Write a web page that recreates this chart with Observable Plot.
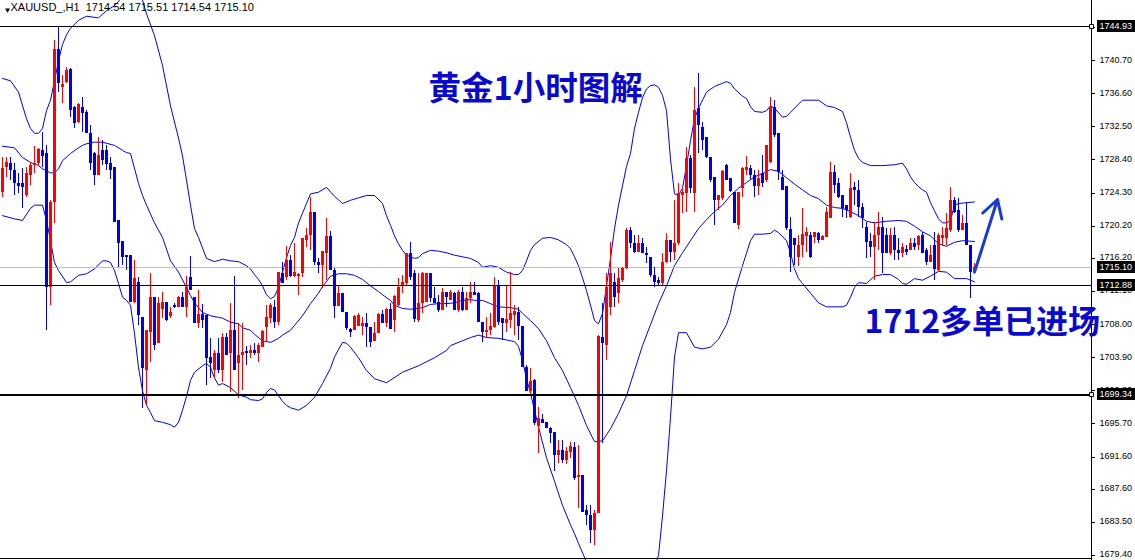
<!DOCTYPE html>
<html>
<head>
<meta charset="utf-8">
<script src="https://cdn.jsdelivr.net/npm/d3@7"></script>
<script src="https://cdn.jsdelivr.net/npm/@observablehq/plot@0.6"></script>
<style>
  html, body { margin: 0; padding: 0; background: #fff; }
  #chart { width: 1135px; height: 560px; overflow: hidden; }
  #chart svg { display: block; }
</style>
</head>
<body>
<div id="chart"></div>
<script>
// XAUUSD hourly bars, oldest first
const symbol = "XAUUSD_";
const period = "H1";
const opens = [
1724.4,1727.5,1728.0,1727.1,1725.5,1725.5,1724.0,1726.5,1727.7,1728.0,
1729.6,1729.2,1712.6,1723.1,1742.1,1737.4,1738.0,1739.6,1734.9,1733.0,
1734.9,1734.3,1731.7,1729.2,1726.5,1729.6,1729.6,1728.0,1727.5,1720.9,
1718.3,1716.6,1716.6,1710.7,1713.2,1708.9,1702.3,1707.0,1711.4,1705.7,
1709.9,1710.7,1709.0,1710.4,1710.1,1711.4,1710.1,1713.8,1711.4,1708.1,
1709.2,1709.1,1703.9,1702.3,1704.4,1702.3,1706.4,1704.4,1707.3,1703.2,
1704.2,1704.7,1704.4,1704.8,1704.4,1705.2,1707.6,1708.7,1710.1,1708.3,
1714.3,1713.8,1715.9,1714.0,1714.0,1714.3,1718.4,1719.0,1721.9,1715.7,
1715.3,1716.8,1718.9,1714.7,1710.2,1711.9,1709.5,1707.4,1707.3,1707.8,
1707.8,1708.1,1707.6,1705.9,1706.9,1709.2,1708.1,1709.9,1708.5,1710.4,
1712.8,1713.1,1716.8,1714.3,1708.5,1710.6,1710.7,1714.3,1711.2,1710.7,
1709.7,1712.0,1711.0,1711.9,1709.7,1712.0,1709.7,1711.2,1712.0,1711.9,
1708.3,1707.0,1707.3,1707.6,1712.8,1708.7,1708.1,1708.5,1709.1,1709.5,
1707.8,1702.7,1699.7,1701.1,1695.4,1696.2,1695.9,1695.1,1694.6,1691.8,
1692.4,1691.2,1692.2,1692.8,1689.1,1689.3,1685.0,1684.3,1682.5,1684.6,
1706.4,1705.4,1710.1,1713.2,1711.9,1713.5,1714.9,1719.7,1718.0,1716.9,
1718.0,1716.8,1716.3,1714.1,1713.5,1713.1,1715.7,1718.4,1716.9,1718.0,
1724.0,1724.2,1728.6,1724.2,1734.8,1732.4,1731.2,1728.7,1726.2,1723.4,
1723.6,1727.7,1726.1,1724.4,1720.3,1724.9,1727.1,1727.3,1726.5,1725.1,
1726.7,1725.9,1728.1,1734.9,1731.7,1726.2,1725.1,1719.8,1718.7,1716.3,
1717.8,1718.9,1719.0,1718.8,1719.3,1718.4,1718.8,1721.1,1726.8,1725.5,
1724.0,1722.8,1721.3,1725.0,1724.6,1722.5,1720.0,1718.3,1717.6,1719.0,
1720.0,1719.0,1716.8,1719.0,1717.2,1716.8,1717.3,1717.2,1718.0,1717.8,
1719.0,1717.2,1715.7,1717.8,1714.7,1718.7,1718.7,1719.7,1723.4,1722.1,
1719.7,1720.5,1717.8,1714.54
];
const highs = [
1728.7,1728.7,1728.7,1728.0,1726.7,1727.3,1727.5,1728.1,1730.1,1729.8,
1731.8,1730.2,1723.4,1743.2,1744.93,1738.9,1739.9,1739.7,1735.0,1735.4,
1736.1,1734.5,1732.7,1729.3,1731.2,1730.8,1730.2,1728.7,1727.5,1720.9,
1718.3,1716.6,1716.6,1715.9,1713.8,1708.9,1707.3,1714.3,1711.4,1711.4,
1712.0,1710.7,1710.1,1710.6,1711.5,1712.0,1714.0,1716.4,1711.4,1712.2,
1710.5,1709.1,1706.3,1704.8,1706.3,1706.9,1706.9,1710.6,1714.0,1708.1,
1708.1,1705.3,1705.4,1705.7,1705.7,1707.3,1710.4,1710.6,1711.0,1714.5,
1715.7,1717.7,1716.6,1718.0,1714.3,1718.7,1719.9,1723.7,1721.9,1716.2,
1717.1,1721.1,1719.5,1714.9,1712.8,1711.9,1709.5,1707.5,1709.1,1709.4,
1708.9,1709.4,1707.6,1708.3,1709.4,1709.7,1710.0,1710.6,1711.6,1713.7,
1714.1,1716.8,1718.2,1714.7,1714.3,1714.5,1714.3,1714.3,1712.6,1711.6,
1712.5,1712.0,1712.2,1712.0,1712.2,1712.6,1712.0,1713.2,1713.2,1712.0,
1708.3,1708.9,1709.4,1713.8,1713.5,1708.7,1712.8,1714.5,1710.4,1710.1,
1707.8,1702.9,1702.6,1701.2,1697.7,1696.9,1695.9,1695.2,1694.6,1693.6,
1693.6,1692.8,1693.4,1693.4,1693.0,1689.3,1685.6,1685.6,1685.0,1706.6,
1710.6,1714.3,1718.2,1714.3,1714.9,1715.1,1719.9,1720.0,1719.0,1719.0,
1718.7,1717.6,1716.3,1715.1,1713.8,1716.8,1719.3,1718.4,1723.4,1725.5,
1725.0,1729.9,1728.9,1737.4,1739.1,1733.0,1731.2,1728.7,1726.2,1724.0,
1727.1,1727.8,1726.1,1724.4,1724.4,1727.5,1728.8,1727.7,1727.1,1727.1,
1728.9,1730.2,1736.1,1735.8,1731.7,1727.1,1725.1,1721.3,1718.7,1719.0,
1722.4,1720.0,1719.4,1719.4,1719.4,1719.0,1722.5,1728.1,1727.7,1726.1,
1724.0,1722.8,1726.7,1725.6,1725.9,1723.0,1720.6,1719.3,1720.6,1721.9,
1721.3,1719.9,1719.9,1720.0,1718.7,1718.0,1717.8,1718.7,1718.7,1719.0,
1719.4,1717.4,1717.8,1719.4,1719.3,1720.0,1721.8,1725.0,1723.7,1723.6,
1721.5,1723.1,1717.8,1715.51
];
const lows = [
1723.7,1726.2,1725.9,1724.0,1724.2,1722.4,1723.7,1725.2,1726.7,1727.7,
1727.5,1707.3,1710.4,1720.5,1736.8,1735.4,1737.9,1733.7,1732.3,1732.9,
1731.8,1731.7,1727.1,1725.2,1726.5,1727.7,1727.1,1726.0,1720.6,1715.1,
1715.3,1714.7,1710.7,1710.6,1707.9,1697.6,1697.9,1703.3,1704.8,1705.7,
1708.7,1708.4,1708.7,1710.0,1710.1,1710.1,1708.9,1712.2,1708.1,1707.5,
1707.5,1700.5,1701.3,1701.3,1701.9,1700.8,1704.2,1699.6,1702.3,1698.8,
1699.8,1702.9,1703.8,1704.2,1703.3,1705.2,1705.8,1708.1,1707.5,1707.9,
1713.1,1713.5,1713.8,1713.8,1711.6,1713.8,1717.6,1717.2,1715.3,1714.3,
1712.5,1713.5,1714.7,1708.7,1710.2,1709.5,1707.3,1706.4,1707.3,1707.8,
1706.6,1705.2,1705.2,1705.9,1706.9,1708.1,1707.6,1707.4,1707.0,1710.2,
1711.9,1712.8,1713.5,1708.3,1708.3,1709.4,1710.7,1710.7,1710.6,1709.5,
1709.7,1710.1,1711.0,1709.7,1709.5,1709.6,1709.7,1710.6,1711.6,1708.3,
1705.8,1706.4,1706.6,1707.5,1707.9,1706.0,1707.0,1707.5,1706.6,1706.0,
1702.7,1699.7,1699.5,1695.5,1692.0,1695.7,1695.1,1693.3,1689.8,1690.8,
1690.8,1690.7,1691.4,1688.7,1685.2,1684.7,1683.1,1680.9,1680.6,1684.6,
1693.3,1703.6,1709.1,1710.1,1710.6,1713.2,1714.8,1717.4,1716.8,1716.9,
1716.8,1715.6,1713.8,1712.6,1712.8,1712.8,1715.6,1715.7,1715.9,1717.8,
1721.8,1721.9,1724.2,1721.9,1729.2,1729.6,1728.6,1725.6,1720.3,1722.1,
1723.4,1725.9,1724.4,1720.5,1719.8,1723.7,1726.5,1726.0,1723.7,1724.0,
1725.0,1725.6,1728.0,1731.2,1725.9,1724.6,1719.7,1714.5,1715.3,1715.2,
1716.3,1716.9,1716.2,1718.0,1718.0,1718.4,1718.8,1721.1,1724.2,1723.6,
1721.3,1721.1,1721.1,1722.8,1721.3,1719.9,1716.2,1716.3,1713.5,1717.2,
1714.3,1716.8,1716.6,1715.9,1715.9,1716.3,1716.6,1717.2,1717.2,1717.2,
1716.8,1715.3,1715.7,1713.5,1714.6,1717.8,1717.8,1719.4,1721.8,1719.4,
1719.7,1717.8,1711.2,1714.54
];
const closes = [
1727.3,1728.1,1727.1,1725.5,1725.1,1725.0,1726.7,1727.7,1728.0,1729.7,
1728.8,1712.6,1723.1,1742.1,1737.9,1737.7,1739.5,1734.5,1732.9,1735.3,
1734.2,1731.7,1728.0,1726.5,1728.9,1728.3,1727.8,1727.1,1720.6,1718.0,
1716.3,1716.3,1710.7,1713.7,1709.1,1702.6,1707.3,1711.4,1705.4,1710.6,
1710.7,1708.5,1709.5,1710.1,1711.4,1710.1,1712.6,1712.2,1708.1,1709.2,
1708.5,1703.8,1703.2,1704.4,1702.3,1706.4,1704.2,1707.3,1702.3,1704.2,
1704.5,1704.4,1704.8,1704.4,1705.4,1707.1,1708.9,1710.4,1708.3,1714.5,
1713.1,1715.9,1714.0,1714.5,1714.2,1718.7,1719.0,1721.9,1715.7,1715.3,
1717.1,1718.9,1714.7,1710.2,1711.9,1709.5,1707.5,1707.0,1709.0,1709.1,
1708.1,1707.6,1705.8,1706.9,1709.2,1708.1,1709.9,1707.4,1711.5,1712.6,
1713.2,1716.8,1713.8,1708.6,1710.6,1714.3,1714.3,1711.2,1710.6,1709.7,
1712.0,1711.4,1712.0,1709.7,1712.0,1709.7,1711.2,1712.0,1711.6,1708.3,
1707.0,1707.3,1707.8,1712.8,1708.3,1708.1,1708.6,1709.4,1709.6,1707.8,
1702.7,1699.7,1700.9,1695.7,1696.4,1695.7,1695.1,1694.5,1691.8,1692.4,
1691.2,1692.3,1692.9,1688.9,1689.3,1684.7,1684.3,1682.5,1684.6,1706.5,
1705.7,1712.6,1714.3,1711.4,1713.7,1714.9,1719.7,1718.0,1716.9,1718.0,
1716.8,1716.6,1714.1,1713.2,1713.1,1715.7,1718.4,1716.9,1718.0,1724.2,
1724.4,1728.6,1724.9,1734.5,1732.7,1730.8,1728.7,1725.9,1723.4,1724.0,
1727.0,1725.9,1724.5,1720.5,1724.4,1727.3,1727.5,1726.5,1725.1,1726.1,
1725.5,1730.2,1734.9,1731.4,1726.8,1724.6,1719.9,1716.3,1717.8,1717.8,
1719.2,1719.4,1716.3,1719.4,1718.4,1718.9,1721.9,1726.8,1725.2,1723.7,
1722.4,1722.1,1724.9,1724.6,1722.5,1721.1,1718.2,1717.6,1719.0,1720.0,
1716.8,1716.8,1719.0,1717.2,1716.8,1717.6,1716.9,1718.0,1717.6,1718.9,
1716.8,1715.7,1716.6,1714.8,1719.0,1719.0,1719.9,1723.4,1721.9,1719.7,
1720.5,1717.8,1714.5,1715.10
];

// Bollinger bands (20, 2), sampled as [bar index, price]
const upperBand = [
[0,1738.5],[2,1738.2],[4,1736.8],[6,1733.5],[7,1732.3],[8,1731.7],[9,1731.7],[10,1732.3],[11,1734.5],[12,1735.8],
[13,1738.2],[14,1740.7],[15,1742.7],[16,1743.9],[17,1744.7],[19,1745.7],[21,1746.2],[24,1746.0],[26,1746.9],[28,1747.5],
[30,1748.6],[32,1749.6],[34,1748.8],[35,1748.2],[36,1746.5],[38,1743.8],[40,1740.1],[42,1735.1],[44,1731.1],[45,1728.9],
[46,1725.9],[47,1722.8],[48,1719.9],[49,1718.8],[50,1717.5],[51,1716.2],[53,1715.8],[55,1716.1],[57,1715.9],[59,1715.8],
[61,1715.3],[62,1714.9],[63,1714.2],[64,1713.6],[65,1712.8],[66,1711.7],[67,1711.2],[68,1711.5],[69,1712.6],[70,1714.5],
[71,1716.3],[72,1717.8],[73,1718.8],[74,1720.6],[75,1721.8],[76,1723.0],[77,1724.2],[79,1724.4],[81,1725.0],[83,1723.9],
[85,1723.0],[87,1723.4],[89,1723.7],[91,1724.0],[93,1724.0],[95,1723.0],[96,1721.5],[97,1720.3],[98,1719.0],[99,1718.0],
[100,1717.2],[101,1716.6],[103,1716.2],[104,1716.3],[105,1716.8],[107,1717.2],[109,1717.1],[111,1716.9],[113,1716.6],[115,1716.4],
[117,1716.2],[119,1715.7],[120,1715.1],[122,1715.3],[124,1715.1],[126,1714.5],[128,1714.2],[129,1714.2],[130,1714.7],[131,1715.9],
[132,1717.2],[133,1717.9],[135,1718.7],[137,1718.8],[139,1718.5],[141,1717.9],[142,1717.4],[143,1716.4],[144,1715.3],[145,1713.8],
[146,1712.2],[147,1710.4],[148,1708.5],[149,1708.1],[150,1709.4],[151,1712.8],[152,1716.2],[153,1719.9],[154,1722.8],[155,1725.2],
[156,1727.6],[157,1729.2],[158,1732.3],[159,1734.3],[160,1736.1],[161,1737.2],[162,1737.6],[163,1737.7],[164,1737.4],[165,1736.4],
[166,1734.5],[167,1728.5],[168,1724.2],[169,1724.0],[170,1724.9],[171,1727.7],[172,1730.8],[173,1733.5],[174,1734.8],[176,1736.8],
[178,1737.5],[180,1737.9],[181,1738.1],[182,1737.9],[183,1737.2],[185,1736.3],[186,1736.0],[187,1735.0],[188,1734.4],[190,1734.3],
[191,1734.5],[192,1735.1],[193,1734.8],[195,1733.7],[196,1733.8],[197,1734.3],[199,1735.3],[200,1735.8],[204,1735.8],[206,1735.1],
[208,1734.9],[210,1734.4],[211,1733.0],[212,1731.2],[213,1729.6],[214,1728.6],[215,1728.1],[217,1727.7],[220,1727.7],[223,1727.8],
[225,1728.0],[226,1727.3],[227,1726.3],[228,1725.6],[229,1725.1],[230,1724.7],[231,1724.4],[232,1723.1],[233,1722.1],[234,1721.1],
[235,1720.6],[236,1720.6],[237,1720.9],[238,1722.8],[239,1723.0],[241,1723.1],[243,1723.2]
];
const middleBand = [
[0,1730.1],[3,1729.9],[5,1728.7],[7,1728.1],[9,1727.7],[10,1727.3],[12,1726.8],[13,1726.8],[14,1727.3],[15,1728.3],
[17,1729.2],[19,1729.9],[20,1730.2],[21,1730.4],[23,1730.6],[25,1730.6],[28,1730.2],[30,1729.6],[31,1729.3],[32,1729.2],
[34,1725.5],[35,1724.0],[36,1722.8],[38,1720.6],[40,1718.8],[42,1715.9],[44,1714.5],[46,1712.6],[47,1711.6],[48,1710.7],
[49,1710.1],[50,1709.5],[52,1709.1],[54,1708.9],[55,1708.8],[57,1708.3],[59,1708.1],[60,1707.6],[62,1707.3],[63,1706.8],
[65,1706.0],[67,1705.8],[69,1706.3],[70,1706.7],[72,1707.3],[73,1707.9],[75,1709.1],[77,1710.6],[79,1711.9],[80,1712.7],
[82,1714.0],[84,1714.3],[86,1714.3],[88,1714.1],[90,1713.6],[92,1712.8],[94,1712.1],[95,1711.7],[97,1711.0],[98,1710.4],
[100,1710.0],[102,1709.9],[105,1710.1],[107,1710.5],[109,1710.6],[111,1710.6],[113,1710.7],[115,1711.0],[117,1711.1],[118,1711.0],
[120,1711.0],[122,1710.6],[124,1710.2],[127,1710.1],[129,1709.9],[130,1709.4],[132,1708.5],[134,1707.5],[136,1706.0],[138,1703.9],
[140,1702.3],[142,1700.2],[144,1698.0],[146,1695.5],[148,1693.5],[150,1693.6],[152,1695.1],[154,1697.0],[156,1699.2],[158,1702.3],
[160,1705.4],[162,1708.0],[164,1710.6],[166,1712.8],[168,1715.3],[170,1716.9],[172,1718.4],[174,1719.9],[176,1721.0],[178,1722.0],
[180,1722.8],[182,1724.0],[184,1724.9],[186,1725.6],[188,1726.3],[190,1726.7],[192,1727.2],[194,1727.0],[196,1726.2],[198,1725.4],
[200,1724.7],[202,1724.0],[204,1723.6],[206,1722.8],[208,1722.5],[210,1722.4],[212,1722.0],[214,1721.5],[216,1720.8],[218,1720.6],
[221,1720.8],[224,1720.9],[226,1720.8],[228,1720.2],[230,1719.5],[232,1719.0],[234,1718.0],[236,1717.7],[238,1718.2],[240,1718.4],
[243,1718.3]
];
const lowerBand = [
[0,1721.5],[3,1721.1],[5,1720.9],[7,1722.4],[8,1722.8],[10,1722.8],[11,1720.9],[12,1718.4],[13,1715.7],[14,1714.7],
[16,1713.2],[17,1713.3],[19,1714.1],[21,1714.3],[23,1714.9],[25,1715.9],[26,1715.9],[27,1715.7],[28,1714.7],[29,1713.1],
[30,1711.4],[31,1711.0],[32,1710.4],[33,1706.9],[34,1702.7],[35,1699.8],[36,1698.0],[37,1697.1],[38,1696.1],[40,1695.9],
[42,1695.6],[43,1695.3],[44,1695.9],[45,1697.4],[46,1699.1],[47,1701.1],[48,1702.1],[50,1702.9],[51,1703.2],[52,1702.7],
[53,1701.4],[54,1700.5],[55,1700.7],[57,1700.2],[59,1699.3],[61,1699.0],[62,1698.7],[64,1698.6],[65,1698.8],[66,1699.6],
[67,1700.1],[68,1699.9],[69,1699.2],[70,1698.5],[71,1698.0],[72,1697.7],[74,1697.4],[76,1698.0],[78,1699.0],[80,1700.7],
[82,1702.6],[83,1704.0],[85,1705.8],[86,1705.7],[87,1705.2],[89,1703.9],[91,1702.3],[93,1701.3],[96,1700.8],[100,1702.1],
[104,1702.9],[108,1703.9],[111,1704.8],[112,1705.4],[115,1706.0],[117,1706.4],[119,1706.7],[121,1706.4],[124,1706.3],[127,1706.0],
[128,1705.9],[129,1705.3],[130,1703.6],[131,1701.3],[132,1699.5],[133,1697.4],[134,1695.3],[136,1691.5],[138,1688.6],[140,1685.6],
[142,1683.2],[143,1682.1],[144,1680.9],[146,1678.6],[148,1678.5],[150,1677.8],[152,1674.0],[156,1670.8],[160,1674.7],[163,1678.0],
[164,1679.4],[165,1684.3],[166,1689.9],[167,1696.5],[168,1704.0],[169,1707.0],[171,1707.0],[173,1705.2],[175,1705.0],[177,1705.2],
[179,1706.2],[181,1708.0],[182,1709.5],[183,1712.0],[185,1715.3],[187,1718.4],[188,1719.2],[190,1719.2],[192,1719.3],[193,1719.7],
[194,1719.4],[196,1718.4],[197,1716.9],[198,1714.9],[199,1713.7],[200,1713.1],[202,1711.9],[204,1710.7],[206,1710.2],[210,1710.2],
[211,1710.4],[212,1711.4],[213,1712.6],[214,1713.2],[216,1713.1],[218,1714.0],[220,1714.2],[222,1714.2],[224,1713.6],[225,1713.1],
[226,1713.0],[228,1713.7],[230,1713.5],[232,1714.0],[234,1714.6],[236,1714.5],[238,1713.7],[241,1713.7],[243,1713.3]
];

// Right price scale
const priceTicks = [1679.40,1683.50,1687.60,1691.60,1695.70,1699.80,1703.90,1708.00,1712.10,1716.20,1720.20,1724.30,1728.40,1732.50,1736.60,1740.70,1744.80];
// Horizontal support / resistance levels
const resistance = [1744.93];
const entryLevel = [1712.88];
const support = [1699.34];
// Trade annotation
const title = "黄金1小时图解";
const entryNote = "1712多单已进场";
const entryArrow = [{fromBar: 243.0, fromPrice: 1714.5, toBar: 248.75, toPrice: 1723.5}];

const RED = "#ff0000";
const BLUE = "#0000e6";
const BAND = "#0000e0";
const INK = "#0a0acc";

const n = closes.length;
const bars = opens.map((o, i) => ({i, o, h: highs[i], l: lows[i], c: closes[i]}));
const upBars = bars.filter(d => d.c >= d.o);
const downBars = bars.filter(d => d.c < d.o);
const last = bars[n - 1];
const bid = last.c;
const priceTags = [...resistance, bid, ...entryLevel, ...support];
const header = `${symbol},${period}  ` + [last.o, last.h, last.l, last.c].map(v => v.toFixed(2)).join(" ");

const xMax = 272.25;                 // right edge of the bar area, in bars
const yMin = 1678.78, yMaxP = 1748.15; // visible price range
const pxPerPrice = 560 / (yMaxP - yMin);
const fmt = d3.format(".2f");
const crisp = {shapeRendering: "crispEdges"};

const chart = Plot.plot({
  width: 1135,
  height: 560,
  marginLeft: 0,
  marginRight: 44,
  marginTop: 0,
  marginBottom: 0,
  x: {domain: [-0.5, xMax], axis: null},
  y: {domain: [yMin, yMaxP], axis: null},
  style: {fontFamily: "'Liberation Sans', Arial, sans-serif", fontSize: "9px", background: "#ffffff", overflow: "visible"},
  marks: [
    // Bollinger bands
    Plot.line(upperBand, {x: d => d[0], y: d => d[1], stroke: BAND, strokeWidth: 1, clip: true}),
    Plot.line(middleBand, {x: d => d[0], y: d => d[1], stroke: BAND, strokeWidth: 1, clip: true}),
    Plot.line(lowerBand, {x: d => d[0], y: d => d[1], stroke: BAND, strokeWidth: 1, clip: true}),
    // bid line at the last close
    Plot.ruleY([bid], {stroke: "#c0c0c0", strokeWidth: 1, ...crisp}),
    // candles: wicks then bodies
    Plot.ruleX(upBars, {x: "i", y1: "l", y2: "h", stroke: RED, strokeWidth: 1, ...crisp}),
    Plot.ruleX(downBars, {x: "i", y1: "l", y2: "h", stroke: BLUE, strokeWidth: 1, ...crisp}),
    Plot.ruleX(upBars, {x: "i", y1: "o", y2: "c", stroke: RED, strokeWidth: 3, ...crisp}),
    Plot.ruleX(downBars, {x: "i", y1: "o", y2: "c", stroke: BLUE, strokeWidth: 3, ...crisp}),
    // levels
    Plot.ruleY(resistance, {stroke: "#000", strokeWidth: 1, ...crisp}),
    Plot.ruleY(entryLevel, {stroke: "#000", strokeWidth: 1, ...crisp}),
    Plot.ruleY(support, {stroke: "#000", strokeWidth: 2, ...crisp}),
    // chart border: bottom edge and price scale
    Plot.ruleY([yMin + 2 / pxPerPrice], {x1: -0.5, x2: xMax, stroke: "#000", strokeWidth: 1, ...crisp}),
    Plot.ruleX([xMax], {stroke: "#000", strokeWidth: 1, ...crisp}),
    Plot.ruleY(priceTicks, {x1: xMax, x2: xMax + 1, stroke: "#000", ...crisp}),
    Plot.text(priceTicks, {x: xMax, y: d => d, dx: 8, dy: -1, text: fmt, textAnchor: "start", fill: "#000", fontSize: 9}),
    Plot.rect(priceTags, {x1: xMax, x2: xMax, y1: d => d - 0.74, y2: d => d + 0.74, insetLeft: 6, insetRight: -44, fill: "#000", ...crisp}),
    Plot.text(priceTags, {x: xMax, y: d => d, dx: 8, text: fmt, textAnchor: "start", fill: "#fff", fontSize: 9}),
    Plot.dot([...resistance, ...support], {x: xMax, y: d => d, symbol: "square", r: 2.2, stroke: "#000", fill: "#fff", strokeWidth: 1}),
    // header
    Plot.text(["▼"], {frameAnchor: "top-left", dx: 3, dy: 7, fontSize: 8, fill: "#000"}),
    Plot.text([header], {frameAnchor: "top-left", dx: 10, dy: 7, textAnchor: "start", lineAnchor: "middle", fontSize: 11, fill: "#000"}),
    // annotations
    Plot.text([title], {frameAnchor: "top-left", dx: 428, dy: 89, textAnchor: "start", lineAnchor: "middle",
      fontSize: 32.5, fontWeight: "bold", fontFamily: "'Noto Sans CJK SC', sans-serif", fill: INK}),
    Plot.text([entryNote], {frameAnchor: "top-left", dx: 864, dy: 322, textAnchor: "start", lineAnchor: "middle",
      fontSize: 32, fontWeight: "bold", fontFamily: "'Noto Sans CJK SC', sans-serif", fill: INK}),
    Plot.arrow(entryArrow, {x1: "fromBar", y1: "fromPrice", x2: "toBar", y2: "toPrice",
      stroke: "#1a3ad6", strokeWidth: 3, headLength: 10})
  ]
});

document.getElementById("chart").appendChild(chart);
</script>
</body>
</html>
